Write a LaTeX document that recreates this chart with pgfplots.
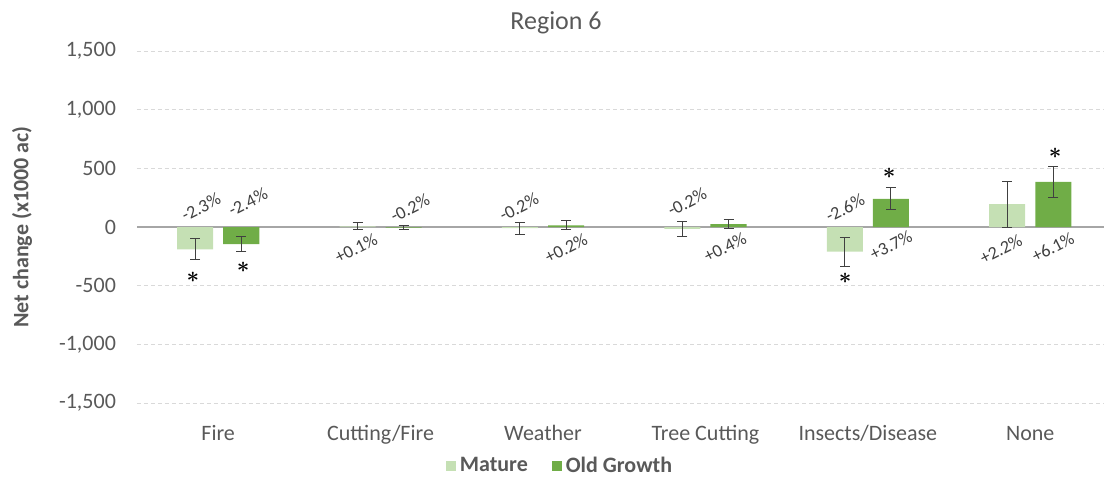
\documentclass[border=0pt]{standalone}
\usepackage{fontspec}
\setmainfont{Carlito}
\usepackage{amsmath}
\usepackage{pgfplots}
\pgfplotsset{compat=1.18}
\definecolor{mature}{HTML}{C5E0B4}
\definecolor{oldgrowth}{HTML}{70AD47}
\definecolor{txtgray}{HTML}{595959}
\definecolor{gridgray}{HTML}{D9D9D9}
\definecolor{zerogray}{HTML}{A6A6A6}
\definecolor{errgray}{HTML}{404040}
\begin{document}
\begin{tikzpicture}
\useasboundingbox (-68.5pt,-38pt) rectangle (483.5pt,201.5pt);
\begin{axis}[
    at={(0,0)}, anchor=south west,
    scale only axis,
    width=483.5pt, height=176pt,
    xmin=-0.5, xmax=5.454,
    ymin=-1500, ymax=1500,
    xtick={0,1,2,3,4,5},
    xticklabels={Fire,Cutting/Fire,Weather,Tree Cutting,Insects/Disease,None},
    ytick={-1500,-1000,-500,0,500,1000,1500},
    /pgf/number format/.cd, 1000 sep={,}, assume math mode=true,
    /pgfplots/.cd,
    axis line style={draw=none},
    major tick length=0pt,
    ymajorgrids,
    major grid style={color=gridgray, dash pattern=on 2pt off 1.5pt, line width=0.5pt},
    extra y ticks={0},
    extra y tick labels={},
    extra y tick style={major grid style={solid, color=zerogray, line width=0.75pt}},
    ticklabel style={font=\fontsize{11}{13}\selectfont, text=txtgray},
    yticklabel style={anchor=east, xshift=-7pt},
    xticklabel style={anchor=base, yshift=-18.5pt},
    ylabel={\textbf{Net change (x1000 ac)}},
    ylabel style={at={(axis description cs:-0.1189,0.5)}, anchor=center,
        font=\fontsize{11}{13}\selectfont, text=txtgray},
    title={Region 6},
    title style={at={(axis description cs:0.4333,1)}, anchor=center, yshift=8pt,
        font=\fontsize{13}{15}\selectfont, text=txtgray},
    legend style={at={(axis description cs:0.4385,0)}, anchor=center, yshift=-31.5pt,
        draw=none, fill=none, legend columns=2,
        font=\fontsize{11}{13}\selectfont\bfseries, text=txtgray,
        /tikz/every even column/.append style={column sep=10pt},
        /tikz/every odd column/.append style={column sep=0pt}},
    legend image code/.code={\fill[#1] (0pt,-2.5pt) rectangle (5pt,2.5pt);},
    error bars/error bar style={color=errgray, line width=0.5pt},
    error bars/error mark options={rotate=90, mark size=2.5pt, color=errgray, line width=0.5pt},
]
% Mature
\addplot[ybar, bar width=0.222, bar shift=0pt, fill=mature, draw=none,
    error bars/.cd, y dir=both, y explicit]
    coordinates {
    (-0.142,-190) +- (0,90)
    (0.858,5) +- (0,30)
    (1.858,-10) +- (0,50)
    (2.858,-15) +- (0,65)
    (3.858,-210) +- (0,124)
    (4.858,195) +- (0,195)
    };
\addlegendentry{Mature}
% Old Growth
\addplot[ybar, bar width=0.222, bar shift=0pt, fill=oldgrowth, draw=none,
    error bars/.cd, y dir=both, y explicit]
    coordinates {
    (0.142,-145) +- (0,60)
    (1.142,-5) +- (0,15)
    (2.142,15) +- (0,40)
    (3.142,25) +- (0,40)
    (4.142,239) +- (0,94)
    (5.142,385) +- (0,130)
    };
\addlegendentry{Old Growth}
% percent labels
\addplot[forget plot, draw=none, mark=none, point meta=explicit symbolic,
    nodes near coords,
    nodes near coords style={anchor=center, rotate=27, inner sep=0pt,
        font=\fontsize{9}{10}\selectfont, text=errgray}]
    coordinates {
    (-0.106,170) [-2.3\%]
    (0.183,213) [-2.4\%]
    (0.849,-179) [+0.1\%]
    (1.181,162) [-0.2\%]
    (1.852,170) [-0.2\%]
    (2.142,-179) [+0.2\%]
    (2.887,213) [-0.2\%]
    (3.121,-170) [+0.4\%]
    (3.860,162) [-2.6\%]
    (4.143,-153) [+3.7\%]
    (4.820,-188) [+2.2\%]
    (5.140,-170) [+6.1\%]
    };
% significance asterisks
\addplot[forget plot, draw=none, mark=none, point meta=explicit symbolic,
    nodes near coords,
    nodes near coords style={anchor=center, inner sep=0pt,
        font=\fontsize{11}{13}\selectfont, text=black}]
    coordinates {
    (-0.155,-426) [$\boldsymbol{\ast}$]
    (0.153,-341) [$\boldsymbol{\ast}$]
    (3.860,-435) [$\boldsymbol{\ast}$]
    (4.131,460) [$\boldsymbol{\ast}$]
    (5.153,631) [$\boldsymbol{\ast}$]
    };
\end{axis}
\end{tikzpicture}
\end{document}
